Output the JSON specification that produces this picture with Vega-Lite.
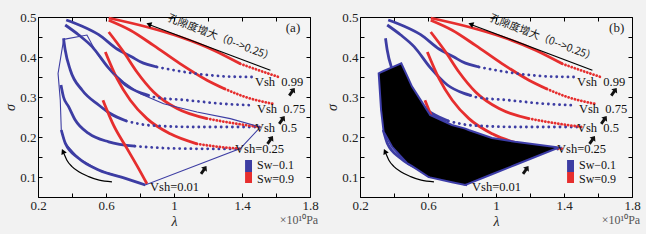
{
  "$schema": "https://vega.github.io/schema/vega-lite/v6.json",
  "background": "#f2f2f2",
  "padding": {"left": 3, "top": 10, "right": 5, "bottom": 5},
  "bounds": "flush",
  "spacing": 50,
  "config": {
    "view": {"stroke": "#000", "strokeWidth": 1, "fill": "#f4f4f4"},
    "axis": {"labelFont": "Liberation Serif", "labelFontSize": 13, "labelColor": "#222", "tickColor": "#000", "tickSize": -4, "grid": false, "domain": false, "titleFont": "Liberation Serif", "titleFontStyle": "italic", "titleFontWeight": "normal", "titleFontSize": 14, "titleColor": "#222", "labelFlush": false, "labelOverlap": false, "labelPadding": 6}
  },
  "datasets": {
    "cur": [
      {"c":"B99","sw":"0.1","g":"s","o":1,"l":0.366,"s":0.4925},{"c":"B99","sw":"0.1","g":"s","o":2,"l":0.46,"s":0.477},{"c":"B99","sw":"0.1","g":"s","o":3,"l":0.557,"s":0.456},{"c":"B99","sw":"0.1","g":"s","o":4,"l":0.665,"s":0.42},{"c":"B99","sw":"0.1","g":"s","o":5,"l":0.753,"s":0.4},{"c":"B99","sw":"0.1","g":"s","o":6,"l":0.802,"s":0.388},{"c":"B99","sw":"0.1","g":"s","o":7,"l":0.9,"s":0.375},
      {"c":"B99","sw":"0.1","g":"d","o":8,"l":0.9,"s":0.375},{"c":"B99","sw":"0.1","g":"d","o":9,"l":1.0,"s":0.367},{"c":"B99","sw":"0.1","g":"d","o":10,"l":1.135,"s":0.358},{"c":"B99","sw":"0.1","g":"d","o":11,"l":1.331,"s":0.351},{"c":"B99","sw":"0.1","g":"d","o":12,"l":1.47,"s":0.35},
      {"c":"B75","sw":"0.1","g":"s","o":1,"l":0.36,"s":0.48},{"c":"B75","sw":"0.1","g":"s","o":2,"l":0.44,"s":0.455},{"c":"B75","sw":"0.1","g":"s","o":3,"l":0.518,"s":0.426},{"c":"B75","sw":"0.1","g":"s","o":4,"l":0.616,"s":0.372},{"c":"B75","sw":"0.1","g":"s","o":5,"l":0.714,"s":0.33},{"c":"B75","sw":"0.1","g":"s","o":6,"l":0.812,"s":0.309},{"c":"B75","sw":"0.1","g":"s","o":7,"l":0.85,"s":0.304},
      {"c":"B75","sw":"0.1","g":"d","o":8,"l":0.85,"s":0.304},{"c":"B75","sw":"0.1","g":"d","o":9,"l":0.88,"s":0.3},{"c":"B75","sw":"0.1","g":"d","o":10,"l":1.076,"s":0.292},{"c":"B75","sw":"0.1","g":"d","o":11,"l":1.292,"s":0.283},{"c":"B75","sw":"0.1","g":"d","o":12,"l":1.47,"s":0.279},
      {"c":"B50","sw":"0.1","g":"s","o":1,"l":0.35,"s":0.447},{"c":"B50","sw":"0.1","g":"s","o":2,"l":0.36,"s":0.4175},{"c":"B50","sw":"0.1","g":"s","o":3,"l":0.39,"s":0.3675},{"c":"B50","sw":"0.1","g":"s","o":4,"l":0.459,"s":0.3175},{"c":"B50","sw":"0.1","g":"s","o":5,"l":0.557,"s":0.28},{"c":"B50","sw":"0.1","g":"s","o":6,"l":0.62,"s":0.26},{"c":"B50","sw":"0.1","g":"s","o":7,"l":0.72,"s":0.24},
      {"c":"B50","sw":"0.1","g":"d","o":8,"l":0.72,"s":0.24},{"c":"B50","sw":"0.1","g":"d","o":9,"l":0.861,"s":0.229},{"c":"B50","sw":"0.1","g":"d","o":10,"l":1.135,"s":0.225},{"c":"B50","sw":"0.1","g":"d","o":11,"l":1.49,"s":0.225},
      {"c":"B25","sw":"0.1","g":"s","o":1,"l":0.335,"s":0.33},{"c":"B25","sw":"0.1","g":"s","o":2,"l":0.35,"s":0.3},{"c":"B25","sw":"0.1","g":"s","o":3,"l":0.38,"s":0.276},{"c":"B25","sw":"0.1","g":"s","o":4,"l":0.419,"s":0.2425},{"c":"B25","sw":"0.1","g":"s","o":5,"l":0.498,"s":0.209},{"c":"B25","sw":"0.1","g":"s","o":6,"l":0.616,"s":0.188},{"c":"B25","sw":"0.1","g":"s","o":7,"l":0.77,"s":0.177},
      {"c":"B25","sw":"0.1","g":"d","o":8,"l":0.77,"s":0.177},{"c":"B25","sw":"0.1","g":"d","o":9,"l":1.037,"s":0.171},{"c":"B25","sw":"0.1","g":"d","o":10,"l":1.39,"s":0.17},
      {"c":"B01","sw":"0.1","g":"s","o":1,"l":0.337,"s":0.2175},{"c":"B01","sw":"0.1","g":"s","o":2,"l":0.361,"s":0.184},{"c":"B01","sw":"0.1","g":"s","o":3,"l":0.439,"s":0.147},{"c":"B01","sw":"0.1","g":"s","o":4,"l":0.557,"s":0.1175},{"c":"B01","sw":"0.1","g":"s","o":5,"l":0.714,"s":0.0967},{"c":"B01","sw":"0.1","g":"s","o":6,"l":0.831,"s":0.08},
      {"c":"R99","sw":"0.9","g":"s","o":1,"l":0.616,"s":0.4975},{"c":"R99","sw":"0.9","g":"s","o":2,"l":0.841,"s":0.475},{"c":"R99","sw":"0.9","g":"s","o":3,"l":1.037,"s":0.45},{"c":"R99","sw":"0.9","g":"s","o":4,"l":1.233,"s":0.417},{"c":"R99","sw":"0.9","g":"s","o":5,"l":1.39,"s":0.383},
      {"c":"R99","sw":"0.9","g":"d","o":6,"l":1.39,"s":0.383},{"c":"R99","sw":"0.9","g":"d","o":7,"l":1.528,"s":0.3625},{"c":"R99","sw":"0.9","g":"d","o":8,"l":1.616,"s":0.35},
      {"c":"R75","sw":"0.9","g":"s","o":1,"l":0.616,"s":0.492},{"c":"R75","sw":"0.9","g":"s","o":2,"l":0.743,"s":0.467},{"c":"R75","sw":"0.9","g":"s","o":3,"l":0.88,"s":0.429},{"c":"R75","sw":"0.9","g":"s","o":4,"l":1.037,"s":0.383},{"c":"R75","sw":"0.9","g":"s","o":5,"l":1.194,"s":0.342},{"c":"R75","sw":"0.9","g":"s","o":6,"l":1.3,"s":0.32},
      {"c":"R75","sw":"0.9","g":"d","o":7,"l":1.3,"s":0.32},{"c":"R75","sw":"0.9","g":"d","o":8,"l":1.42,"s":0.3},{"c":"R75","sw":"0.9","g":"d","o":9,"l":1.58,"s":0.283},
      {"c":"R50","sw":"0.9","g":"s","o":1,"l":0.616,"s":0.4625},{"c":"R50","sw":"0.9","g":"s","o":2,"l":0.704,"s":0.4125},{"c":"R50","sw":"0.9","g":"s","o":3,"l":0.782,"s":0.3625},{"c":"R50","sw":"0.9","g":"s","o":4,"l":0.88,"s":0.3125},{"c":"R50","sw":"0.9","g":"s","o":5,"l":1.018,"s":0.271},{"c":"R50","sw":"0.9","g":"s","o":6,"l":1.194,"s":0.246},
      {"c":"R50","sw":"0.9","g":"d","o":7,"l":1.194,"s":0.246},{"c":"R50","sw":"0.9","g":"d","o":8,"l":1.37,"s":0.233},{"c":"R50","sw":"0.9","g":"d","o":9,"l":1.508,"s":0.225},
      {"c":"R25","sw":"0.9","g":"s","o":1,"l":0.596,"s":0.4125},{"c":"R25","sw":"0.9","g":"s","o":2,"l":0.665,"s":0.346},{"c":"R25","sw":"0.9","g":"s","o":3,"l":0.743,"s":0.292},{"c":"R25","sw":"0.9","g":"s","o":4,"l":0.841,"s":0.246},{"c":"R25","sw":"0.9","g":"s","o":5,"l":0.978,"s":0.208},{"c":"R25","sw":"0.9","g":"s","o":6,"l":1.135,"s":0.183},
      {"c":"R25","sw":"0.9","g":"d","o":7,"l":1.135,"s":0.183},{"c":"R25","sw":"0.9","g":"d","o":8,"l":1.272,"s":0.175},{"c":"R25","sw":"0.9","g":"d","o":9,"l":1.39,"s":0.171},
      {"c":"R01","sw":"0.9","g":"s","o":1,"l":0.582,"s":0.292},{"c":"R01","sw":"0.9","g":"s","o":2,"l":0.645,"s":0.229},{"c":"R01","sw":"0.9","g":"s","o":3,"l":0.724,"s":0.171},{"c":"R01","sw":"0.9","g":"s","o":4,"l":0.792,"s":0.121},{"c":"R01","sw":"0.9","g":"s","o":5,"l":0.841,"s":0.083}
    ],
    "polyA": [
      {"o":1,"l":0.351,"s":0.444},{"o":2,"l":0.488,"s":0.455},{"o":3,"l":0.547,"s":0.408},{"o":4,"l":0.625,"s":0.367},{"o":5,"l":0.704,"s":0.3375},{"o":6,"l":0.802,"s":0.308},{"o":7,"l":0.939,"s":0.283},{"o":8,"l":1.135,"s":0.2625},{"o":9,"l":1.331,"s":0.246},{"o":10,"l":1.508,"s":0.225},{"o":11,"l":1.39,"s":0.171},{"o":12,"l":0.831,"s":0.08},{"o":13,"l":0.714,"s":0.0967},{"o":14,"l":0.557,"s":0.1175},{"o":15,"l":0.439,"s":0.147},{"o":16,"l":0.361,"s":0.184},{"o":17,"l":0.337,"s":0.2175},{"o":18,"l":0.331,"s":0.2925},{"o":19,"l":0.318,"s":0.359},{"o":20,"l":0.351,"s":0.444}
    ],
    "polyB": [
      {"l":0.31,"t":0.359,"b":0.359},{"l":0.324,"t":0.362,"b":0.2675},{"l":0.339,"t":0.365,"b":0.213},{"l":0.388,"t":0.374,"b":0.176},{"l":0.443,"t":0.384,"b":0.15},{"l":0.476,"t":0.354,"b":0.135},{"l":0.506,"t":0.326,"b":0.127},{"l":0.604,"t":0.261,"b":0.1},{"l":0.612,"t":0.255,"b":0.099},{"l":0.741,"t":0.23,"b":0.087},{"l":0.819,"t":0.221,"b":0.08},{"l":0.839,"t":0.2175,"b":0.0834},{"l":0.976,"t":0.1975,"b":0.1068},{"l":1.112,"t":0.188,"b":0.13},{"l":1.37,"t":0.174,"b":0.174}
    ],
    "arr": [
      {"a":"arc","o":1,"l":0.635,"s":0.088},{"a":"arc","o":2,"l":0.56,"s":0.092},{"a":"arc","o":3,"l":0.498,"s":0.101},{"a":"arc","o":4,"l":0.44,"s":0.113},{"a":"arc","o":5,"l":0.4,"s":0.126},{"a":"arc","o":6,"l":0.37,"s":0.142},{"a":"arc","o":7,"l":0.353,"s":0.158},
      {"a":"top","o":1,"l":1.567,"s":0.367},{"a":"top","o":2,"l":0.86,"s":0.48}
    ],
    "heads": [
      {"l":0.347,"s":0.164,"ang":-25},{"l":0.852,"s":0.482,"ang":-69}
    ],
    "fat": [
      {"l":1.175,"s":0.1175},{"l":1.566,"s":0.1925},{"l":1.635,"s":0.2425},{"l":1.694,"s":0.313}
    ],
    "lbl": [
      {"l":1.476,"s":0.338,"t":"Vsh\u00a0\u00a00.99"},{"l":1.488,"s":0.269,"t":"Vsh\u00a0\u00a00.75"},{"l":1.476,"s":0.223,"t":"Vsh\u00a0\u00a00.5"},{"l":1.359,"s":0.17,"t":"Vsh=0.25"},{"l":0.859,"s":0.074,"t":"Vsh=0.01"}
    ],
    "legt": [
      {"l":1.488,"s":0.1295,"t":"Sw−0.1"},{"l":1.488,"s":0.0955,"t":"Sw=0.9"}
    ],
    "leg": [
      {"sw":"0.1","l":1.418,"l2":1.459,"s":0.1425,"s2":0.1125},{"sw":"0.9","l":1.418,"l2":1.459,"s":0.1125,"s2":0.085}
    ],
    "misc": [
      {"k":"cn","l":1.275,"s":0.447,"t":"孔隙度增大（0-->0.25）"},
      {"k":"pa","l":1.735,"s":-0.0075,"t":"×10¹⁰Pa"}
    ]
  },
  "hconcat": [
    {
      "width": 272, "height": 180,
      "layer": [
        {"data":{"name":"cur"},"transform":[{"filter":"datum.g=='s'"}],
         "mark":{"type":"line","strokeWidth":2.8,"interpolate":"monotone"},
         "encoding":{
           "x":{"field":"l","type":"quantitative","scale":{"domain":[0.2,1.8],"nice":false,"zero":false},"axis":{"orient":"bottom","title":"λ","values":[0.2,0.4,0.6,0.8,1,1.2,1.4,1.6,1.8],"format":"~g","labelExpr":"indexof(['0.2','0.6','1','1.4','1.8'], datum.label) >= 0 ? datum.label : ''","titlePadding":2}},
           "y":{"field":"s","type":"quantitative","scale":{"domain":[0.05,0.5],"nice":false,"zero":false},"axis":{"orient":"left","title":"σ","values":[0.05,0.1,0.15,0.2,0.25,0.3,0.35,0.4,0.45,0.5],"format":"~g","labelExpr":"indexof(['0.1','0.2','0.3','0.4','0.5'], datum.label) >= 0 ? datum.label : ''","titlePadding":2}},
           "color":{"field":"sw","type":"nominal","scale":{"domain":["0.1","0.9"],"range":["#3d3da3","#e62e2e"]},"legend":null},
           "detail":{"field":"c"},
           "order":{"field":"o","type":"quantitative"}}},
        {"data":{"name":"cur"},"transform":[{"filter":"datum.g=='d' && datum.sw=='0.1'"}],
         "mark":{"type":"line","strokeWidth":2.8,"strokeDash":[0.1,5.5],"strokeCap":"round","interpolate":"monotone"},
         "encoding":{
           "x":{"field":"l","type":"quantitative","axis":null},
           "y":{"field":"s","type":"quantitative","axis":null},
           "color":{"field":"sw","type":"nominal","legend":null},
           "detail":{"field":"c"},
           "order":{"field":"o","type":"quantitative"}}},
        {"data":{"name":"cur"},"transform":[{"filter":"datum.g=='d' && datum.sw=='0.9'"}],
         "mark":{"type":"line","strokeWidth":2.8,"strokeDash":[0.1,3.2],"strokeCap":"round","interpolate":"monotone"},
         "encoding":{
           "x":{"field":"l","type":"quantitative","axis":null},
           "y":{"field":"s","type":"quantitative","axis":null},
           "color":{"field":"sw","type":"nominal","legend":null},
           "detail":{"field":"c"},
           "order":{"field":"o","type":"quantitative"}}},
        {"data":{"name":"polyA"},
         "mark":{"type":"line","strokeWidth":1.1,"color":"#3d3da3"},
         "encoding":{"x":{"field":"l","type":"quantitative","axis":null},"y":{"field":"s","type":"quantitative","axis":null},"order":{"field":"o","type":"quantitative"}}},
        {"data":{"name":"arr"},
         "mark":{"type":"line","strokeWidth":1.2,"color":"#000","interpolate":"monotone"},
         "encoding":{"x":{"field":"l","type":"quantitative","axis":null},"y":{"field":"s","type":"quantitative","axis":null},"detail":{"field":"a"},"order":{"field":"o","type":"quantitative"}}},
        {"data":{"name":"heads"},
         "mark":{"type":"point","shape":"triangle-up","filled":true,"color":"#000","size":35,"opacity":1},
         "encoding":{"x":{"field":"l","type":"quantitative","axis":null},"y":{"field":"s","type":"quantitative","axis":null},"angle":{"field":"ang","type":"quantitative","scale":null}}},
        {"data":{"name":"fat"},
         "mark":{"type":"point","shape":"M0,-1L0.75,-0.1L0.3,-0.1L0.3,1L-0.3,1L-0.3,-0.1L-0.75,-0.1Z","filled":true,"color":"#111","size":90,"opacity":1,"angle":35},
         "encoding":{"x":{"field":"l","type":"quantitative","axis":null},"y":{"field":"s","type":"quantitative","axis":null}}},
        {"data":{"name":"leg"},
         "mark":{"type":"rect"},
         "encoding":{"x":{"field":"l","type":"quantitative","axis":null},"x2":{"field":"l2"},"y":{"field":"s","type":"quantitative","axis":null},"y2":{"field":"s2"},"color":{"field":"sw","type":"nominal","legend":null}}},
        {"data":{"name":"lbl"},
         "mark":{"type":"text","font":"Liberation Serif","fontSize":12.5,"align":"left","baseline":"middle","color":"#111"},
         "encoding":{
           "x":{"field":"l","type":"quantitative","axis":{"orient":"top","title":null,"labels":false,"values":[0.2,0.4,0.6,0.8,1,1.2,1.4,1.6,1.8]}},
           "y":{"field":"s","type":"quantitative","axis":{"orient":"right","title":null,"labels":false,"values":[0.05,0.1,0.15,0.2,0.25,0.3,0.35,0.4,0.45,0.5]}},
           "text":{"field":"t"}}},
        {"data":{"name":"legt"},
         "mark":{"type":"text","font":"Liberation Serif","fontSize":12,"align":"left","baseline":"middle","color":"#111"},
         "encoding":{"x":{"field":"l","type":"quantitative","axis":null},"y":{"field":"s","type":"quantitative","axis":null},"text":{"field":"t"}}},
        {"data":{"name":"misc"},"transform":[{"filter":"datum.k=='cn'"}],
         "mark":{"type":"text","font":"Noto Sans CJK SC","fontSize":10.5,"angle":21,"align":"center","baseline":"middle","color":"#111"},
         "encoding":{"x":{"field":"l","type":"quantitative","axis":null},"y":{"field":"s","type":"quantitative","axis":null},"text":{"field":"t"}}},
        {"data":{"name":"misc"},"transform":[{"filter":"datum.k=='pa'"}],
         "mark":{"type":"text","font":"Liberation Serif","fontSize":12,"align":"center","baseline":"middle","color":"#555"},
         "encoding":{"x":{"field":"l","type":"quantitative","axis":null},"y":{"field":"s","type":"quantitative","axis":null},"text":{"field":"t"}}},
        {"data":{"values":[{"l":1.7,"s":0.4725,"t":"(a)"}]},
         "mark":{"type":"text","font":"Liberation Serif","fontSize":13,"align":"center","baseline":"middle","color":"#222"},
         "encoding":{"x":{"field":"l","type":"quantitative","axis":null},"y":{"field":"s","type":"quantitative","axis":null},"text":{"field":"t"}}}
      ]
    },
    {
      "width": 272, "height": 180,
      "layer": [
        {"data":{"name":"cur"},"transform":[{"filter":"datum.g=='s'"}],
         "mark":{"type":"line","strokeWidth":2.8,"interpolate":"monotone"},
         "encoding":{
           "x":{"field":"l","type":"quantitative","scale":{"domain":[0.2,1.8],"nice":false,"zero":false},"axis":{"orient":"bottom","title":"λ","values":[0.2,0.4,0.6,0.8,1,1.2,1.4,1.6,1.8],"format":"~g","labelExpr":"indexof(['0.2','0.6','1','1.4','1.8'], datum.label) >= 0 ? datum.label : ''","titlePadding":2}},
           "y":{"field":"s","type":"quantitative","scale":{"domain":[0.05,0.5],"nice":false,"zero":false},"axis":{"orient":"left","title":"σ","values":[0.05,0.1,0.15,0.2,0.25,0.3,0.35,0.4,0.45,0.5],"format":"~g","labelExpr":"indexof(['0.1','0.2','0.3','0.4','0.5'], datum.label) >= 0 ? datum.label : ''","titlePadding":2}},
           "color":{"field":"sw","type":"nominal","scale":{"domain":["0.1","0.9"],"range":["#3d3da3","#e62e2e"]},"legend":null},
           "detail":{"field":"c"},
           "order":{"field":"o","type":"quantitative"}}},
        {"data":{"name":"cur"},"transform":[{"filter":"datum.g=='d' && datum.sw=='0.1'"}],
         "mark":{"type":"line","strokeWidth":2.8,"strokeDash":[0.1,5.5],"strokeCap":"round","interpolate":"monotone"},
         "encoding":{
           "x":{"field":"l","type":"quantitative","axis":null},
           "y":{"field":"s","type":"quantitative","axis":null},
           "color":{"field":"sw","type":"nominal","legend":null},
           "detail":{"field":"c"},
           "order":{"field":"o","type":"quantitative"}}},
        {"data":{"name":"cur"},"transform":[{"filter":"datum.g=='d' && datum.sw=='0.9'"}],
         "mark":{"type":"line","strokeWidth":2.8,"strokeDash":[0.1,3.2],"strokeCap":"round","interpolate":"monotone"},
         "encoding":{
           "x":{"field":"l","type":"quantitative","axis":null},
           "y":{"field":"s","type":"quantitative","axis":null},
           "color":{"field":"sw","type":"nominal","legend":null},
           "detail":{"field":"c"},
           "order":{"field":"o","type":"quantitative"}}},
        {"data":{"name":"polyB"},
         "mark":{"type":"area","fill":"#000","stroke":"#3d3da8","strokeWidth":2,"fillOpacity":1,"interpolate":"linear"},
         "encoding":{"x":{"field":"l","type":"quantitative","axis":null},"y":{"field":"t","type":"quantitative","axis":null},"y2":{"field":"b"}}},
        {"data":{"name":"arr"},
         "mark":{"type":"line","strokeWidth":1.2,"color":"#000","interpolate":"monotone"},
         "encoding":{"x":{"field":"l","type":"quantitative","axis":null},"y":{"field":"s","type":"quantitative","axis":null},"detail":{"field":"a"},"order":{"field":"o","type":"quantitative"}}},
        {"data":{"name":"heads"},
         "mark":{"type":"point","shape":"triangle-up","filled":true,"color":"#000","size":35,"opacity":1},
         "encoding":{"x":{"field":"l","type":"quantitative","axis":null},"y":{"field":"s","type":"quantitative","axis":null},"angle":{"field":"ang","type":"quantitative","scale":null}}},
        {"data":{"name":"fat"},
         "mark":{"type":"point","shape":"M0,-1L0.75,-0.1L0.3,-0.1L0.3,1L-0.3,1L-0.3,-0.1L-0.75,-0.1Z","filled":true,"color":"#111","size":90,"opacity":1,"angle":35},
         "encoding":{"x":{"field":"l","type":"quantitative","axis":null},"y":{"field":"s","type":"quantitative","axis":null}}},
        {"data":{"name":"leg"},
         "mark":{"type":"rect"},
         "encoding":{"x":{"field":"l","type":"quantitative","axis":null},"x2":{"field":"l2"},"y":{"field":"s","type":"quantitative","axis":null},"y2":{"field":"s2"},"color":{"field":"sw","type":"nominal","legend":null}}},
        {"data":{"name":"lbl"},
         "mark":{"type":"text","font":"Liberation Serif","fontSize":12.5,"align":"left","baseline":"middle","color":"#111"},
         "encoding":{
           "x":{"field":"l","type":"quantitative","axis":{"orient":"top","title":null,"labels":false,"values":[0.2,0.4,0.6,0.8,1,1.2,1.4,1.6,1.8]}},
           "y":{"field":"s","type":"quantitative","axis":{"orient":"right","title":null,"labels":false,"values":[0.05,0.1,0.15,0.2,0.25,0.3,0.35,0.4,0.45,0.5]}},
           "text":{"field":"t"}}},
        {"data":{"name":"legt"},
         "mark":{"type":"text","font":"Liberation Serif","fontSize":12,"align":"left","baseline":"middle","color":"#111"},
         "encoding":{"x":{"field":"l","type":"quantitative","axis":null},"y":{"field":"s","type":"quantitative","axis":null},"text":{"field":"t"}}},
        {"data":{"name":"misc"},"transform":[{"filter":"datum.k=='cn'"}],
         "mark":{"type":"text","font":"Noto Sans CJK SC","fontSize":10.5,"angle":21,"align":"center","baseline":"middle","color":"#111"},
         "encoding":{"x":{"field":"l","type":"quantitative","axis":null},"y":{"field":"s","type":"quantitative","axis":null},"text":{"field":"t"}}},
        {"data":{"name":"misc"},"transform":[{"filter":"datum.k=='pa'"}],
         "mark":{"type":"text","font":"Liberation Serif","fontSize":12,"align":"center","baseline":"middle","color":"#555"},
         "encoding":{"x":{"field":"l","type":"quantitative","axis":null},"y":{"field":"s","type":"quantitative","axis":null},"text":{"field":"t"}}},
        {"data":{"values":[{"l":1.71,"s":0.472,"t":"(b)"}]},
         "mark":{"type":"text","font":"Liberation Serif","fontSize":13,"align":"center","baseline":"middle","color":"#222"},
         "encoding":{"x":{"field":"l","type":"quantitative","axis":null},"y":{"field":"s","type":"quantitative","axis":null},"text":{"field":"t"}}}
      ]
    }
  ]
}
